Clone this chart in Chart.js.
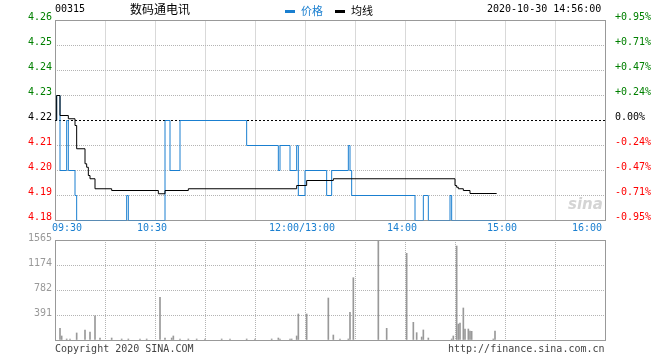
<!DOCTYPE html>
<html>
<head>
<meta charset="utf-8">
<script src="https://cdn.jsdelivr.net/npm/chart.js@4"></script>
<style>
  body { margin: 0; background: #fff; }
  #wrap { position: relative; width: 660px; height: 360px; font-family: 'DejaVu Sans Mono', monospace; font-size: 10px; color: #000; }
  #wrap canvas { position: absolute; left: 0; top: 0; }
  .t { position: absolute; white-space: nowrap; line-height: 12px; }
  .cjk { font-family: 'Noto Sans CJK SC', sans-serif; line-height: 16px; }
  .dash { position: absolute; width: 10px; height: 3px; }
</style>
</head>
<body>
<div id="wrap">
  <canvas id="priceChart" width="660" height="360"></canvas>
  <canvas id="volChart" width="660" height="360"></canvas>

  <div class="t" style="left:55px;top:3px;">00315</div>
  <div class="t cjk" style="left:130px;top:1px;font-size:12px;">数码通电讯</div>
  <div class="dash" style="left:285px;top:10px;background:#1a7fd0;"></div>
  <div class="t cjk" style="left:301px;top:2px;font-size:11px;color:#1a7fd0;">价格</div>
  <div class="dash" style="left:335px;top:10px;background:#000;"></div>
  <div class="t cjk" style="left:351px;top:2px;font-size:11px;">均线</div>
  <div class="t" style="left:487px;top:3px;">2020-10-30 14:56:00</div>

  <div class="t" style="left:568px;top:198px;font-family:'DejaVu Sans',sans-serif;font-style:italic;font-weight:bold;font-size:15px;color:#d4d4d4;">sina</div>

  <div class="t" style="left:55px;top:343px;color:#444;">Copyright 2020 SINA.COM</div>
  <div class="t" style="left:448px;top:343px;color:#444;">http://finance.sina.com.cn</div>
</div>

<script>
// previous close, the 0.00% line
const prevClose = 4.22;

// price (blue): times where the price changes, and the new price
const priceTimes = ['09:30', '09:31', '09:33', '09:37', '09:38', '09:42', '09:43', '10:13', '10:14',
  '10:36', '10:39', '10:45', '11:25', '11:44', '11:45', '11:51', '11:55', '11:56',
  '13:00', '13:13', '13:16', '13:26', '13:27', '13:28', '14:06', '14:11', '14:14', '14:27', '14:28', '14:55'];
const priceValues = [4.22, 4.23, 4.20, 4.22, 4.20, 4.19, 4.18, 4.19, 4.18,
  4.22, 4.20, 4.22, 4.21, 4.20, 4.21, 4.20, 4.21, 4.19,
  4.20, 4.19, 4.20, 4.21, 4.20, 4.19, 4.18, 4.19, 4.18, 4.19, 4.18, 4.18];

// average price (black)
const avgTimes = ['09:30', '09:31', '09:33', '09:38', '09:42', '09:43', '09:48', '09:49', '09:50', '09:51',
  '09:54', '10:04', '10:32', '10:36', '10:50', '11:55', '13:01', '13:17',
  '14:30', '14:31', '14:32', '14:35', '14:39', '14:55'];
const avgValues = [4.220, 4.230, 4.222, 4.2207, 4.218, 4.2087, 4.2027, 4.2013, 4.198, 4.1967,
  4.1927, 4.192, 4.1907, 4.192, 4.1927, 4.194, 4.196, 4.1967,
  4.194, 4.1933, 4.1927, 4.192, 4.1908, 4.1908];

// volume per minute
const volTimes = ['09:33', '09:34', '09:37', '09:39', '09:43', '09:48', '09:51', '09:54', '09:57', '10:04',
  '10:10', '10:14', '10:21', '10:25', '10:33', '10:36', '10:40', '10:41', '10:45', '10:50',
  '10:55', '11:00', '11:10', '11:15', '11:25', '11:30', '11:40', '11:44', '11:45', '11:51',
  '11:52', '11:55', '11:56', '13:01', '13:14', '13:17', '13:21', '13:26', '13:27', '13:29',
  '13:44', '13:49', '14:01', '14:05', '14:07', '14:10', '14:11', '14:14', '14:28', '14:29',
  '14:31', '14:32', '14:33', '14:35', '14:36', '14:38', '14:39', '14:40', '14:53', '14:54'];
const volValues = [183, 63, 16, 16, 110, 157, 125, 378, 31, 31,
  16, 16, 16, 16, 668, 31, 31, 63, 16, 16,
  16, 16, 16, 16, 16, 16, 16, 31, 16, 16,
  16, 63, 407, 407, 657, 78, 16, 16, 433, 975,
  1565, 183, 1357, 277, 115, 47, 157, 31, 16, 63,
  1471, 250, 266, 501, 172, 172, 141, 136, 16, 141];

// axis labels
const tickMinutes = [0, 60, 150, 210, 270, 330];
const tickLabels = ['09:30', '10:30', '12:00/13:00', '14:00', '15:00', '16:00'];
const volMax = 1565;
const volTickLabels = ['', '391', '782', '1174', '1565'];

// trading minutes since 09:30, lunch break removed
function toAxis(t) {
  const [h, m] = t.split(':').map(Number);
  const mins = h * 60 + m;
  return mins <= 720 ? mins - 570 : mins - 780 + 150;
}
const pairs = (times, vals) => times.map((t, i) => ({ x: toAxis(t), y: vals[i] }));

const monoFont = { family: "'DejaVu Sans Mono', monospace", size: 10 };
const blue = '#1a7fd0';
const gridDot = '#b4b4b4';
const isPrev = v => Math.abs(v - prevClose) < 1e-6;
const priceColor = v => isPrev(v) ? '#000' : (v > prevClose ? '#008000' : '#ff0000');

// solid grey frame round the plot area
const frame = {
  id: 'frame',
  beforeDatasetsDraw(chart) {
    const a = chart.chartArea, c = chart.ctx;
    const l = Math.floor(a.left), t = Math.floor(a.top);
    c.save();
    c.strokeStyle = '#999';
    c.lineWidth = 1;
    c.strokeRect(l + 0.5, t + 0.5, Math.floor(a.right) - l, Math.floor(a.bottom) - t);
    c.restore();
  }
};

function timeAxis(showLabels, height) {
  return {
    type: 'linear',
    min: 0,
    max: 330,
    offset: false,
    afterFit: s => { s.height = height; },
    ticks: {
      display: showLabels,
      stepSize: 30,
      autoSkip: false,
      maxRotation: 0,
      align: 'inner',
      labelOffset: -3,
      padding: 2,
      color: blue,
      font: monoFont,
      callback: v => {
        const i = tickMinutes.indexOf(v);
        return i >= 0 ? tickLabels[i] : '';
      }
    },
    grid: { color: gridDot, lineWidth: 1, drawTicks: false, offset: false },
    border: { display: false, dash: [1, 1] }
  };
}

new Chart(document.getElementById('priceChart'), {
  type: 'line',
  data: {
    datasets: [{
      label: '均线',
      data: pairs(avgTimes, avgValues),
      borderColor: '#000',
      borderWidth: 1,
      pointRadius: 0,
      stepped: true,
      fill: false
    }, {
      label: '价格',
      data: pairs(priceTimes, priceValues),
      borderColor: blue,
      borderWidth: 1,
      pointRadius: 0,
      stepped: true,
      fill: false
    }]
  },
  options: {
    responsive: false,
    animation: false,
    events: [],
    layout: { padding: { top: 20.5, left: 0, right: 0, bottom: 0 } },
    plugins: { legend: { display: false }, tooltip: { enabled: false } },
    scales: {
      x: timeAxis(true, 139.5),
      y: {
        position: 'left',
        min: 4.18,
        max: 4.26,
        afterFit: s => { s.width = 55; },
        ticks: {
          stepSize: 0.01,
          padding: 3,
          labelOffset: -3,
          font: monoFont,
          color: ctx => priceColor(ctx.tick.value),
          callback: v => v.toFixed(2)
        },
        grid: {
          drawTicks: false,
          lineWidth: 1,
          color: ctx => ctx.tick && isPrev(ctx.tick.value) ? '#000' : gridDot
        },
        border: {
          display: false,
          dash: ctx => ctx.tick && isPrev(ctx.tick.value) ? [2, 2] : [1, 1]
        }
      },
      y2: {
        position: 'right',
        min: 4.18,
        max: 4.26,
        afterFit: s => { s.width = 55; },
        ticks: {
          stepSize: 0.01,
          padding: 2,
          labelOffset: -3,
          font: monoFont,
          color: ctx => priceColor(ctx.tick.value),
          callback: v => {
            if (isPrev(v)) return '0.00%';
            const p = (v / prevClose - 1) * 100;
            return (p > 0 ? '+' : '') + p.toFixed(2) + '%';
          }
        },
        grid: { display: false },
        border: { display: false }
      }
    }
  },
  plugins: [frame]
});

new Chart(document.getElementById('volChart'), {
  type: 'bar',
  data: {
    datasets: [{
      label: 'volume',
      data: pairs(volTimes, volValues),
      backgroundColor: '#999',
      barThickness: 1
    }]
  },
  options: {
    responsive: false,
    animation: false,
    events: [],
    layout: { padding: { top: 240, left: 0, right: 55, bottom: 0 } },
    plugins: { legend: { display: false }, tooltip: { enabled: false } },
    scales: {
      x: timeAxis(false, 20),
      y: {
        min: 0,
        max: volMax,
        afterFit: s => { s.width = 55; },
        afterBuildTicks: s => {
          s.ticks = volTickLabels.map((_, i) => ({ value: volMax * i / 4 }));
        },
        ticks: {
          padding: 3,
          labelOffset: -2,
          font: monoFont,
          color: '#999',
          callback: (v, i) => volTickLabels[i]
        },
        grid: { drawTicks: false, lineWidth: 1, color: gridDot },
        border: { display: false, dash: [1, 1] }
      }
    }
  },
  plugins: [frame]
});
</script>
</body>
</html>
